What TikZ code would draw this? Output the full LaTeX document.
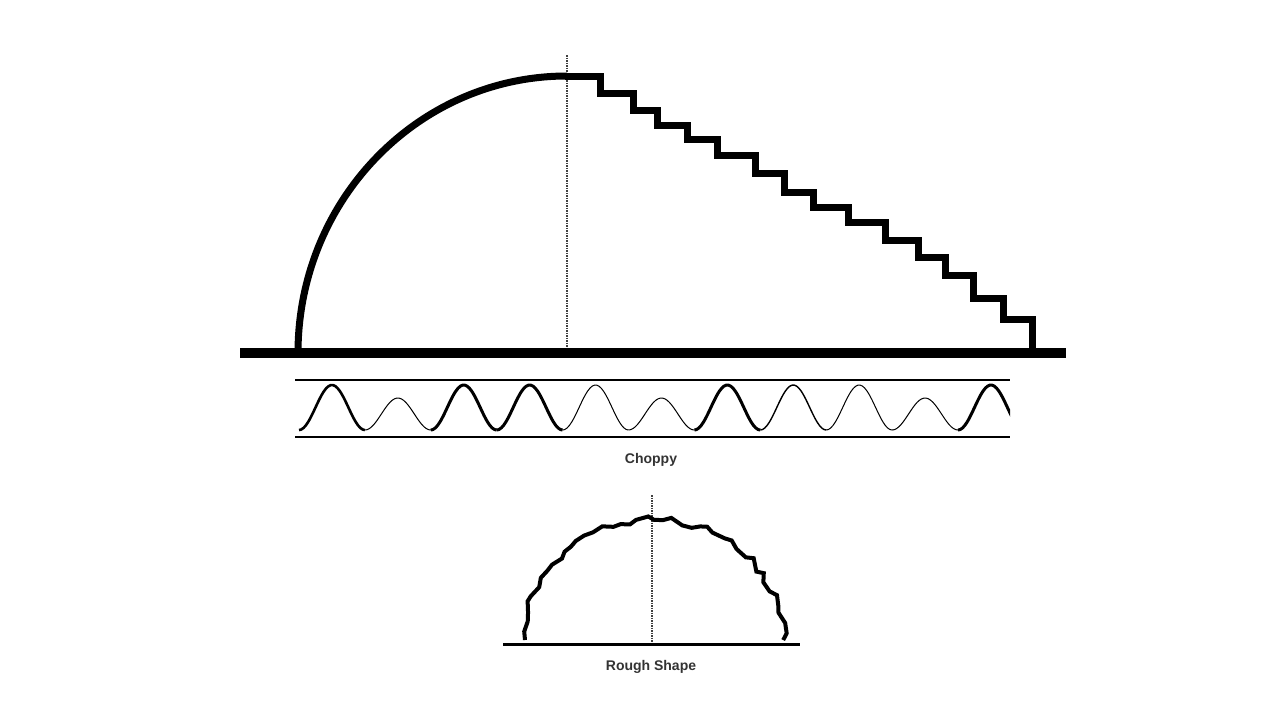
\documentclass[tikz,border=0pt]{standalone}
\usepackage{fontspec}
\setmainfont{Liberation Sans}
\usetikzlibrary{decorations.pathmorphing}
\begin{document}
\begin{tikzpicture}[x=1pt,y=-1pt,
  lbl/.style={font=\fontsize{14}{16}\selectfont\bfseries, text=black!80},
  dotline/.style={line width=1.6pt, dash pattern=on 1.5pt off 1pt, black!75}]
\useasboundingbox (0,0) rectangle (1280,720);
% main figure
\draw[dotline] (567,55) -- (567,353);
\draw[line width=7pt] (298,353) arc[start angle=180,end angle=270,x radius=269,y radius=277];
\draw[line width=7pt, line join=miter]
 (565,76) -- (600,76) |- (633,93) |- (657,110) |- (687,125) |- (717,139) |- (755,155)
 |- (784,173) |- (813,192) |- (848,207) |- (885,222) |- (918,240) |- (945,257)
 |- (973,275) |- (1003,298) |- (1032,319) -- (1032,353);
\draw[line width=10pt] (240,353) -- (1066,353);
% wave band
\draw[line width=2.2pt] (295,380) -- (1010,380);
\draw[line width=2.2pt] (295,437) -- (1010,437);
\begin{scope}
\clip (295,370) rectangle (1010,450);
\foreach \i/\p/\w in {0/385/2.6,1/398/1,2/385/3,3/385/3,4/385/1,5/398/1,6/385/3,7/385/1.4,8/385/1,9/398/1,10/385/3}{
  \draw[line width=\w pt, domain=0:1, samples=30, smooth]
    plot ({299+65.9*\i+65.9*\x},{430-(430-\p)*(1-cos(360*\x))/2});
}
\end{scope}
\node[lbl] (choppy) at (651,460) {Choppy};
% rough shape
\draw[dotline] (652,495) -- (652,644);
\pgfmathsetseed{7}
\draw[line width=4pt, line join=miter, decorate, decoration={random steps,segment length=9pt,amplitude=3.5pt}]
  (525,640) arc[start angle=180,end angle=360,x radius=129,y radius=120];
\draw[line width=3pt] (503,644) -- (800,644);
\node[lbl] (rough) at (651,667) {Rough Shape};
\end{tikzpicture}
\end{document}
